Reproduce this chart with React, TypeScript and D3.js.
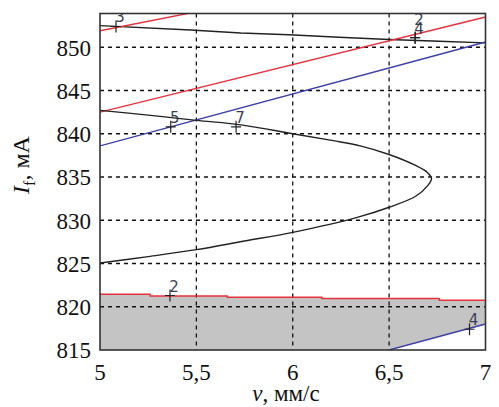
import React from "react";
import * as d3 from "d3";

// ---- data ----
const xTicks = [5, 5.5, 6, 6.5, 7];
const xTickLabels = ["5", "5,5", "6", "6,5", "7"];
const yTicks = [815, 820, 825, 830, 835, 840, 845, 850];

// curve 3 (black, top)
const curve3: [number, number][] = [
  [5, 852.5], [5.47, 852.0], [5.73, 851.65], [5.98, 851.45],
  [6.24, 851.15], [6.5, 850.9], [6.76, 850.7], [7, 850.5],
];
// red lines
const redTop: [number, number][] = [[5, 851.9], [5.5, 854.1]];
const redMid: [number, number][] = [[5, 842.5], [7, 853.5]];
// blue lines
const blueMid: [number, number][] = [[5, 838.6], [7, 850.6]];
const blueBottom: [number, number][] = [[6.5, 815], [7, 818.0]];
// closed black loop (curves 5 / 7)
const loopCurve: [number, number][] = [
  [5, 842.7], [5.25, 842.15], [5.5, 841.55], [5.74, 841.0], [6.0, 840.0],
  [6.21, 839.2], [6.35, 838.6], [6.5, 837.6], [6.64, 836.3], [6.7, 835.5],
  [6.72, 834.8], [6.7, 834.0], [6.64, 832.8], [6.5, 831.5], [6.33, 830.3],
  [6.0, 828.6], [5.75, 827.6], [5.5, 826.6], [5.25, 825.8], [5.0, 825.05],
];
// red step boundary (curve 2, bottom)
const redBottom: [number, number][] = [
  [5, 821.45], [5.26, 821.25], [5.66, 821.1], [6.15, 820.95], [6.76, 820.75], [7, 820.75],
];
// curve labels: text, anchor v, anchor I
const labelText = ["3", "2", "4", "5", "7", "2", "4"];
const labelV = [5.083, 6.635, 6.635, 5.367, 5.706, 5.363, 6.917];
const labelI = [852.4, 851.1, 851.1, 840.8, 840.8, 821.3, 817.4];

const W = 499;
const H = 407;
const left = 100, right = 485.5, top = 13.5, bottom = 350;

const serif = "'Liberation Serif', 'Noto Serif', 'DejaVu Serif', 'Times New Roman', serif";

export default function App() {
  const x = d3.scaleLinear().domain([5, 7]).range([left, right]);
  const y = d3.scaleLinear().domain([815, 853.9]).range([bottom, top]);

  const line = d3.line<[number, number]>().x((d) => x(d[0])).y((d) => y(d[1]));
  const stepLine = d3
    .line<[number, number]>()
    .x((d) => x(d[0]))
    .y((d) => y(d[1]))
    .curve(d3.curveStepAfter);
  const smooth = d3
    .line<[number, number]>()
    .x((d) => x(d[0]))
    .y((d) => y(d[1]))
    .curve(d3.curveCatmullRom.alpha(0.5));

  const blueAt = (v: number) =>
    blueBottom[0][1] +
    ((blueBottom[1][1] - blueBottom[0][1]) * (v - blueBottom[0][0])) /
      (blueBottom[1][0] - blueBottom[0][0]);
  const areaGen = d3
    .area<[number, number]>()
    .x((d) => x(d[0]))
    .y1((d) => y(d[1]))
    .y0(y(815))
    .curve(d3.curveStepAfter);
  const grayTop = areaGen(redBottom) || "";
  const whiteCut =
    "M" + x(blueBottom[0][0]) + "," + y(blueBottom[0][1]) +
    "L" + x(blueBottom[1][0]) + "," + y(blueAt(blueBottom[1][0])) +
    "L" + x(7) + "," + y(815) + "Z";

  const txt = { fontFamily: serif } as React.CSSProperties;

  return (
    <svg
      width={W}
      height={H}
      style={{ position: "absolute", left: 0, top: 0, background: "#fff" }}
    >
      <defs>
        <clipPath id="plot">
          <rect x={left} y={top} width={right - left} height={bottom - top} />
        </clipPath>
      </defs>

      <g clipPath="url(#plot)">
        <path d={grayTop} fill="#c4c4c4" />
        <path d={whiteCut} fill="#fff" />
        {xTicks.slice(1, -1).map((t) => (
          <line
            key={"gx" + t}
            x1={x(t)} x2={x(t)} y1={top} y2={bottom}
            stroke="#111" strokeWidth={1.3} strokeDasharray="4,4"
          />
        ))}
        {yTicks.slice(1).map((t) => (
          <line
            key={"gy" + t}
            x1={left} x2={right} y1={y(t)} y2={y(t)}
            stroke="#111" strokeWidth={1.3} strokeDasharray="4,4"
          />
        ))}
        <path d={stepLine(redBottom) || ""} fill="none" stroke="#e8303a" strokeWidth={1.4} />
        <path d={line(blueBottom) || ""} fill="none" stroke="#3a3ea8" strokeWidth={1.4} />
        <path d={line(curve3) || ""} fill="none" stroke="#222" strokeWidth={1.4} />
        <path d={line(redTop) || ""} fill="none" stroke="#e8303a" strokeWidth={1.4} />
        <path d={line(redMid) || ""} fill="none" stroke="#e8303a" strokeWidth={1.4} />
        <path d={line(blueMid) || ""} fill="none" stroke="#3a3ea8" strokeWidth={1.4} />
        <path d={smooth(loopCurve) || ""} fill="none" stroke="#222" strokeWidth={1.4} />

        {labelText.map((t, i) => {
          const cx = x(labelV[i]);
          const cy = y(labelI[i]);
          const stacked = i === 1 ? -9 : 0;
          return (
            <g key={"lab" + i}>
              <line x1={cx - 5} x2={cx + 5} y1={cy} y2={cy} stroke="#222" strokeWidth={1.2} />
              <line x1={cx} x2={cx} y1={cy - 6} y2={cy + 6} stroke="#222" strokeWidth={1.2} />
              <text
                x={cx + 4}
                y={cy - 4 + stacked}
                textAnchor="middle"
                style={{ fontFamily: "'DejaVu Sans', sans-serif" }}
                fontSize={15}
                fill="#3b3f55"
              >
                {t}
              </text>
            </g>
          );
        })}
      </g>

      <rect
        x={left} y={top} width={right - left} height={bottom - top}
        fill="none" stroke="#333" strokeWidth={1.6}
      />

      {yTicks.map((t) => (
        <text
          key={"yl" + t}
          x={left - 9}
          y={y(t)}
          dy="0.36em"
          textAnchor="end"
          fontSize={23}
          fill="#111"
          style={txt}
        >
          {t}
        </text>
      ))}
      {xTicks.map((t, i) => (
        <text
          key={"xl" + t}
          x={x(t)}
          y={380}
          textAnchor="middle"
          fontSize={23}
          fill="#111"
          style={txt}
        >
          {xTickLabels[i]}
        </text>
      ))}

      <text x={286} y={401} textAnchor="middle" fontSize={23} fill="#111" style={txt}>
        <tspan fontStyle="italic">v</tspan>
        <tspan>, мм/с</tspan>
      </text>
      <text
        transform="translate(29,165) rotate(-90)"
        textAnchor="middle"
        fontSize={24}
        fill="#111"
        style={txt}
      >
        <tspan fontStyle="italic">I</tspan>
        <tspan fontSize={16} dy={6}>f</tspan>
        <tspan dy={-6}>, мА</tspan>
      </text>
    </svg>
  );
}
